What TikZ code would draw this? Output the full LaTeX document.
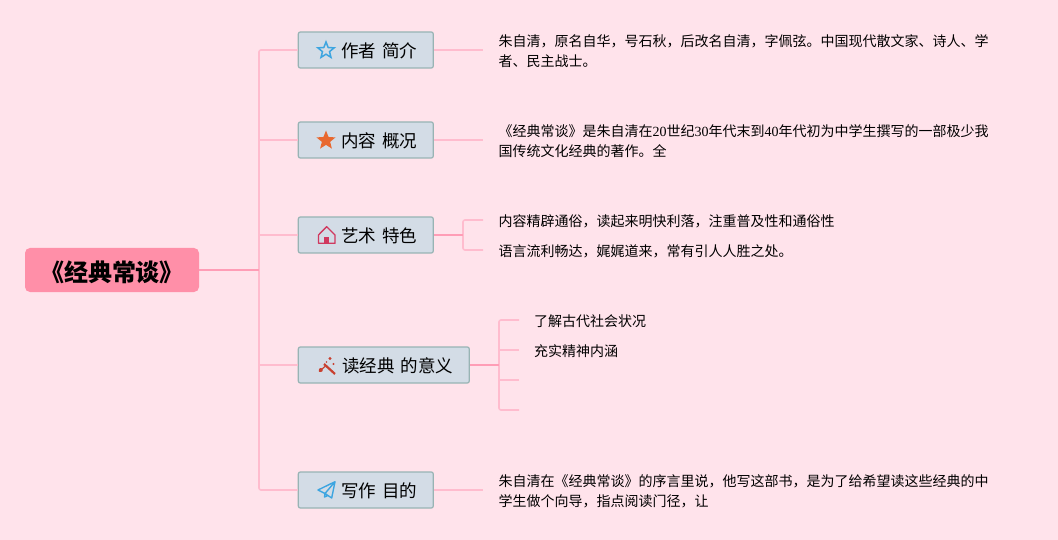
\documentclass[tikz,border=0pt]{standalone}
\usepackage{fontspec}
\setmainfont{Noto Sans CJK SC}
\newfontfamily\digitfont{Liberation Serif}
\usetikzlibrary{shapes.geometric}
\definecolor{pagepink}{HTML}{FFE3EB}
\definecolor{rootpink}{HTML}{FF8FA8}
\definecolor{linepink}{HTML}{FFBCCE}
\definecolor{deeppink}{HTML}{FF9DB6}
\definecolor{boxfill}{HTML}{D3DCE6}
\definecolor{boxline}{HTML}{98B4B4}
\definecolor{starblue}{HTML}{3DA5E0}
\definecolor{starorange}{HTML}{E8682F}
\definecolor{housered}{HTML}{D0395F}
\definecolor{wandred}{HTML}{C8402F}
\tikzset{
  rootbox/.style={fill=rootpink,rounded corners=5pt,minimum width=174pt,minimum height=44pt,inner sep=0pt,text height=23pt,text depth=1pt,font=\fontsize{24}{24}\selectfont\bfseries},
  topicbox/.style={draw=boxline,line width=1.2pt,fill=boxfill,rounded corners=2pt,minimum height=36pt,inner sep=0pt,inner xsep=16pt,text height=17pt,text depth=1.5pt,align=right,font=\fontsize{17.5}{18}\selectfont},
  leaf/.style={anchor=west,inner sep=0pt,align=left,font=\fontsize{14}{20}\selectfont},
  trunk/.style={draw=linepink,line width=1.6pt,rounded corners=2pt},
  maintrunk/.style={draw=deeppink,line width=1.9pt},
}
\begin{document}
\begin{tikzpicture}[x=1pt,y=-1pt]
\useasboundingbox [fill=pagepink] (0,0) rectangle (1058,540);
\node (root) at (112,270) [rootbox] {《经典常谈》};
\node (jianjie) at (365.8,50) [topicbox,text width=103pt] {作者 简介};
\node (gaikuang) at (365.8,140) [topicbox,text width=103pt] {内容 概况};
\node (tese) at (365.8,235) [topicbox,text width=103pt] {艺术 特色};
\node (yiyi) at (383.8,365) [topicbox,text width=139pt] {读经典 的意义};
\node (mudi) at (365.8,490) [topicbox,text width=103pt] {写作 目的};
\node (t1) at (498.5,51) [leaf] {朱自清，原名自华，号石秋，后改名自清，字佩弦。中国现代散文家、诗人、学\\者、民主战士。};
\node (t2) at (498.5,141) [leaf] {《经典常谈》是朱自清在{\digitfont 20}世纪{\digitfont 30}年代末到{\digitfont 40}年代初为中学生撰写的一部极少我\\国传统文化经典的著作。全};
\node (t3a) at (498.5,221) [leaf] {内容精辟通俗，读起来明快利落，注重普及性和通俗性};
\node (t3b) at (498.5,251) [leaf] {语言流利畅达，娓娓道来，常有引人人胜之处。};
\node (t4a) at (534,321) [leaf] {了解古代社会状况};
\node (t4b) at (534,351) [leaf] {充实精神内涵};
\node (t5) at (498.5,491) [leaf] {朱自清在《经典常谈》的序言里说，他写这部书，是为了给希望读这些经典的中\\学生做个向导，指点阅读门径，让};
% branch points
\coordinate (rootfork) at (259,270);
\coordinate (top) at (259,50);
\coordinate (bottom) at (259,490);
\coordinate (end1) at (483,50);
\coordinate (end2) at (483,140);
\coordinate (fork3) at (463,235);
\coordinate (end3a) at (483,220);
\coordinate (end3b) at (483,250);
\coordinate (fork4) at (499,365);
\coordinate (end4a) at (519,320);
\coordinate (end4b) at (519,350);
\coordinate (end4c) at (519,380);
\coordinate (end4d) at (519,410);
\coordinate (end5) at (483,490);
\draw [trunk] (jianjie.west) -- (top) -- (bottom) -- (mudi.west);
\draw [trunk] (gaikuang.west) -- (gaikuang.west -| top);
\draw [trunk] (tese.west) -- (tese.west -| top);
\draw [trunk] (yiyi.west) -- (yiyi.west -| top);
\draw [maintrunk] (root.east) -- (rootfork);
\draw [trunk] (jianjie.east) -- (end1);
\draw [trunk] (gaikuang.east) -- (end2);
\draw [trunk] (mudi.east) -- (end5);
\draw [trunk] (end3a) -- (end3a -| fork3) -- (end3b -| fork3) -- (end3b);
\draw [maintrunk] (tese.east) -- (fork3);
\draw [trunk] (end4a) -- (end4a -| fork4) -- (end4d -| fork4) -- (end4d);
\draw [trunk] (end4b) -- (end4b -| fork4);
\draw [trunk] (end4c) -- (end4c -| fork4);
\draw [maintrunk] (yiyi.east) -- (fork4);
% icons
\node (staricon) at (326,50.5) [star,star points=5,star point ratio=2.3,draw=starblue,line width=1.5pt,inner sep=0pt,minimum size=17pt] {};
\node (fullicon) at (326,140.5) [star,star points=5,star point ratio=2.3,fill=starorange,inner sep=0pt,minimum size=20pt] {};
\draw [housered,line width=1.4pt,line join=round] (318.5,235) -- (326.7,226.7) -- (335,235) -- (335,243.3) -- (318.5,243.3) -- cycle;
\fill [housered] (324.3,243.3) rectangle (329,236.7);
\draw [wandred,line width=2.2pt] (324,364) -- (335,374);
\draw [wandred,line width=1.2pt] (319,371.5) -- (325,366.5);
\fill [wandred] (320.8,370) circle (2pt) (330,358.5) circle (1.6pt) (333.5,364) circle (1.1pt) (326.5,362) circle (0.9pt);
\draw [starblue,line width=1.4pt,line join=round] (318,490) -- (335,481.7) -- (331.7,498) -- (325,493.5) -- cycle (335,481.7) -- (325,493.5) -- (324.5,497) -- (328,495.5);
\end{tikzpicture}
\end{document}
